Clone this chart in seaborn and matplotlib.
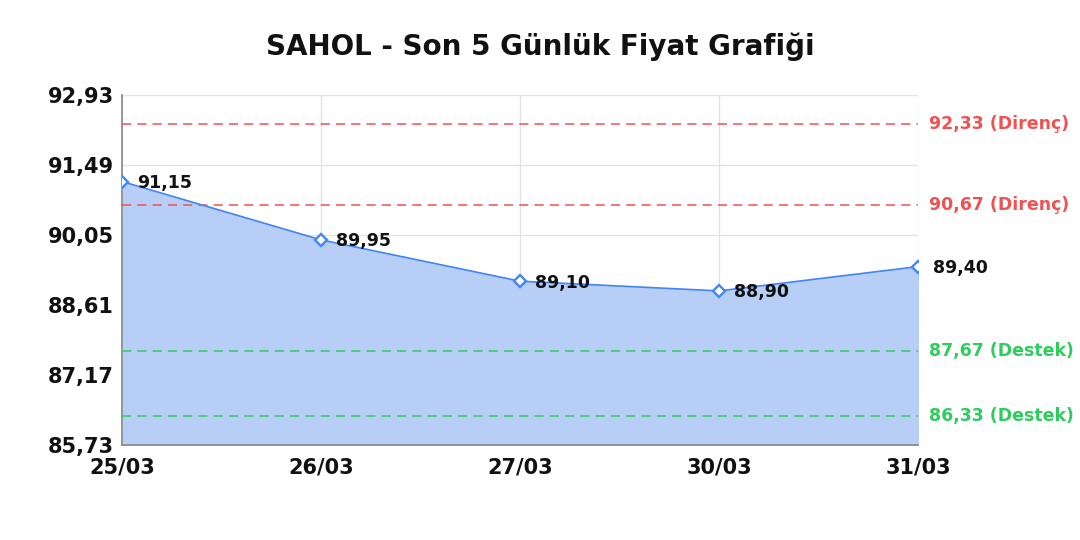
import matplotlib
matplotlib.use("Agg")
import matplotlib.pyplot as plt
import seaborn as sns
import numpy as np
import pandas as pd

# data
dates = ["25/03", "26/03", "27/03", "30/03", "31/03"]
prices = [91.15, 89.95, 89.10, 88.90, 89.40]
resistance = [92.33, 90.67]
support = [87.67, 86.33]
y_ticks = [85.73, 87.17, 88.61, 90.05, 91.49, 92.93]

def fmt(v):
    return f"{v:.2f}".replace(".", ",")

sns.set_style("white")
plt.rcParams["font.family"] = ["DejaVu Sans"]

df = pd.DataFrame({"idx": range(len(dates)), "price": prices})

fig = plt.figure(figsize=(10.8, 5.4), dpi=100)
ax = fig.add_axes([0.113, 0.176, 0.737, 0.648])

line_col = "#4285f4"
ax.fill_between(df["idx"], df["price"], y_ticks[0], color="#b7cff7", zorder=1)
sns.lineplot(data=df, x="idx", y="price", ax=ax, color=line_col, linewidth=1.2,
             marker="D", markersize=6.5, markerfacecolor="white",
             markeredgecolor=line_col, markeredgewidth=1.7, zorder=4)

for i, p in zip(df["idx"], prices):
    ax.annotate(fmt(p), (i, p), xytext=(11, -1), textcoords="offset points",
                fontsize=12.5, fontweight="bold", color="#111111",
                va="center", ha="left", zorder=5, annotation_clip=False)

for r in resistance:
    ax.axhline(r, color="#f05252", linestyle=(0, (6, 4)), linewidth=1.1, zorder=3)
    ax.annotate(f"{fmt(r)} (Direnç)", (1, r), xycoords=("axes fraction", "data"),
                xytext=(8, 0), textcoords="offset points", fontsize=12.5,
                fontweight="bold", color="#f05252", va="center", ha="left")
for s in support:
    ax.axhline(s, color="#2ecc5e", linestyle=(0, (6, 4)), linewidth=1.1, zorder=3)
    ax.annotate(f"{fmt(s)} (Destek)", (1, s), xycoords=("axes fraction", "data"),
                xytext=(8, 0), textcoords="offset points", fontsize=12.5,
                fontweight="bold", color="#2ecc5e", va="center", ha="left")

ax.set_xlim(0, len(dates) - 1)
ax.set_ylim(y_ticks[0], y_ticks[-1])
ax.set_xticks(range(len(dates)))
ax.set_xticklabels(dates)
ax.set_yticks(y_ticks)
ax.set_yticklabels([fmt(v) for v in y_ticks])
ax.tick_params(axis="both", labelsize=15, length=0)
ax.tick_params(axis="x", pad=9)
ax.tick_params(axis="y", pad=6)
for lab in ax.get_xticklabels() + ax.get_yticklabels():
    lab.set_fontweight("bold")
    lab.set_color("#111111")
ax.grid(True, color="#e3e3e3", linewidth=1, zorder=0)
ax.set_axisbelow(True)
ax.set_xlabel("")
ax.set_ylabel("")

for side in ["top", "right"]:
    ax.spines[side].set_visible(False)
ax.spines["left"].set_color("#888888")
ax.spines["bottom"].set_color("#888888")
ax.spines["left"].set_linewidth(1.2)
ax.spines["bottom"].set_linewidth(1.2)

fig.suptitle("SAHOL - Son 5 Günlük Fiyat Grafiği", fontsize=20,
             fontweight="bold", color="#111111", y=0.94)

fig.savefig("out.png", dpi=100)
